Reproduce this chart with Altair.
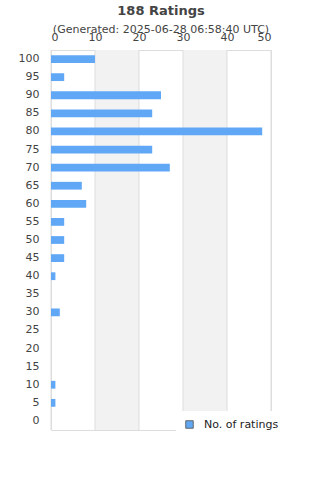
import altair as alt
import pandas as pd

ratings = [100, 95, 90, 85, 80, 75, 70, 65, 60, 55, 50, 45, 40, 35, 30, 25, 20, 15, 10, 5, 0]
counts = [10, 3, 25, 23, 48, 23, 27, 7, 8, 3, 3, 3, 1, 0, 2, 0, 0, 0, 1, 1, 0]
series_name = "No. of ratings"
band_starts = [10, 30]
band_ends = [20, 40]
grid_ticks = [0, 10, 20, 30, 40, 50]

df = pd.DataFrame({"rating": [str(r) for r in ratings], "count": counts, "series": series_name})
bands = pd.DataFrame({"x0": band_starts, "x1": band_ends})
grid = pd.DataFrame({"t": grid_ticks})

order = [str(r) for r in ratings]
FONT = "DejaVu Sans"

xscale = alt.Scale(domain=[0, 50], nice=False)

band_layer = alt.Chart(bands).mark_rect(color="#f2f2f2").encode(
    x=alt.X("x0:Q", scale=xscale),
    x2="x1:Q",
)

grid_layer = alt.Chart(grid).mark_rule(color="#dddddd", strokeWidth=1).encode(
    x=alt.X("t:Q", scale=xscale),
)

bars = alt.Chart(df).mark_bar().encode(
    x=alt.X(
        "count:Q",
        scale=xscale,
        axis=alt.Axis(
            orient="top",
            values=grid_ticks,
            title=None,
            grid=False,
            ticks=False,
            domain=False,
            labelPadding=8,
            labelFontSize=11,
            labelColor="#444444",
            labelFont=FONT,
        ),
    ),
    y=alt.Y(
        "rating:N",
        sort=order,
        scale=alt.Scale(paddingInner=0.57, paddingOuter=0.285),
        axis=alt.Axis(
            title=None,
            ticks=False,
            domain=False,
            labelPadding=12,
            labelFontSize=11,
            labelColor="#444444",
            labelFont=FONT,
        ),
    ),
    color=alt.Color(
        "series:N",
        scale=alt.Scale(range=["#60a8f5"]),
        legend=alt.Legend(
            title=None,
            orient="none",
            legendX=125,
            legendY=361,
            fillColor="white",
            padding=8,
            symbolType="square",
            symbolSize=56,
            symbolStrokeColor="#666666",
            symbolStrokeWidth=1,
            labelFontSize=11,
            labelColor="#222222",
            labelFont=FONT,
            labelOffset=9,
        ),
    ),
)

chart = (
    alt.layer(band_layer, grid_layer, bars)
    .properties(
        width=220,
        height=380,
        autosize=alt.AutoSizeParams(type="none"),
        padding={"left": 51, "top": 50, "right": 49, "bottom": 50},
        title=alt.Title(
            "188 Ratings",
            subtitle="(Generated: 2025-06-28 06:58:40 UTC)",
            anchor="middle",
            fontSize=13,
            fontWeight="bold",
            font=FONT,
            color="#444444",
            subtitleFont=FONT,
            subtitleFontSize=11,
            subtitleColor="#444444",
            subtitlePadding=6,
            offset=-4,
        ),
    )
    .configure_view(stroke="#dddddd", strokeWidth=1)
)

chart.save("out.html", embed_options={"renderer": "svg", "actions": False})
